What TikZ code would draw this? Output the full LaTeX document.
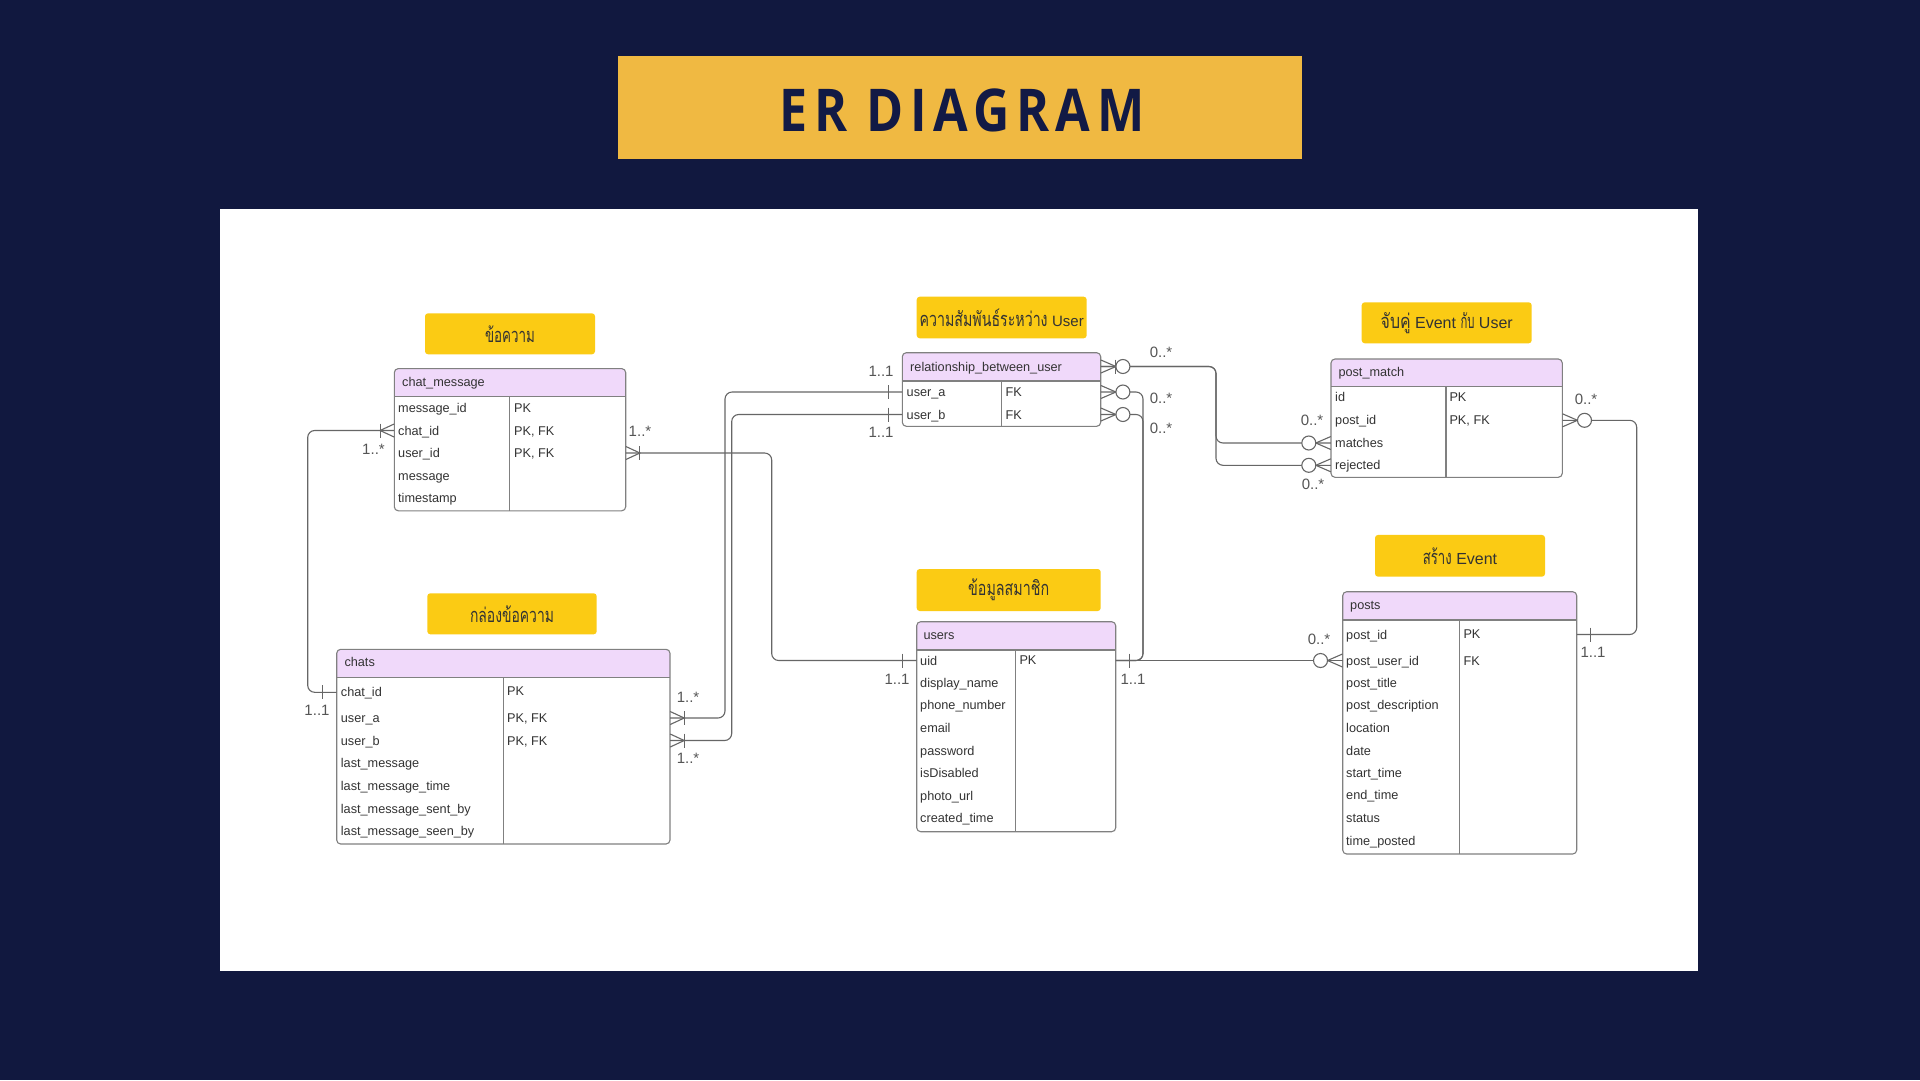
\documentclass[tikz,border=0pt]{standalone}
\usepackage{fontspec}
\usepackage{graphicx}
\setmainfont{Liberation Sans}
\newfontfamily\thaiface[Script=Thai]{Loma}
\newcommand\thaiw[2]{\resizebox{#1pt}{\height}{\thaiface\fontsize{20}{22}\selectfont #2}}
\newfontfamily\titlefont{Open Sans}[FakeStretch=0.85,LetterSpace=11]
\usetikzlibrary{fit}
\definecolor{bgnavy}{HTML}{11183F}
\definecolor{titlenavy}{HTML}{121A45}
\definecolor{titlegold}{HTML}{F0B942}
\definecolor{labyel}{HTML}{FBCB14}
\definecolor{lav}{HTML}{F0D9FA}
\definecolor{tborder}{HTML}{808080}
\definecolor{lineGray}{HTML}{666666}
\definecolor{txtdark}{HTML}{333333}
\definecolor{cardgray}{HTML}{555555}
\definecolor{labtext}{HTML}{333333}
\newcommand\ertable[7]{%
  \begin{scope}
    \clip[rounded corners=4] (#2,#3) rectangle (#4,#5);
    \fill[white] (#2,#3) rectangle (#4,#5);
    \fill[lav] (#2,#3) rectangle (#4,#6);
  \end{scope}
  \draw[tborder,line width=1.1pt] (#2,#6) -- (#4,#6);
  \draw[tborder,line width=1.1pt] (#7,#6) -- (#7,#5);
  \draw[tborder,line width=1.1pt,rounded corners=4] (#2,#3) rectangle (#4,#5);
  \node[inner sep=0pt,fit={(#2,#3)(#4,#5)}] (#1) {};
}
\begin{document}
\begin{tikzpicture}[x=1pt,y=-1pt,
  attr/.style={anchor=west,inner sep=0pt,text height=9pt,text depth=0pt,font=\fontsize{12.7}{14}\selectfont,text=txtdark},
  card/.style={inner sep=0pt,font=\fontsize{15}{17}\selectfont,text=cardgray},
  labelbox/.style={fill=labyel,rounded corners=3,inner sep=0pt,text=labtext,font=\fontsize{16}{18}\selectfont},
  connline/.style={draw=lineGray,line width=1.1pt,rounded corners=7},
  markline/.style={draw=lineGray,line width=1.1pt},
  pics/manyone/.style={code={\draw[markline] (0,-6.5) -- (14,0) -- (0,6.5); \draw[markline] (14,-7) -- (14,7);}},
  pics/onlyone/.style={code={\draw[markline] (14,-7) -- (14,7);}},
  pics/manyzero/.style={code={\draw[markline] (0,-6.5) -- (15,0) -- (0,6.5); \draw[markline,fill=white] (22,0) circle (7pt);}},
  pics/manyonezero/.style={code={\draw[markline] (0,-6.5) -- (15,0) -- (0,6.5); \draw[markline] (15,-7) -- (15,7); \draw[markline,fill=white] (22,0) circle (7pt);}}
]
\useasboundingbox (0,0) rectangle (1920,1080);
\fill[bgnavy] (0,0) rectangle (1920,1080);
\fill[white] (220.4,209.4) rectangle (1698.4,971);

% title
\node[fill=titlegold,minimum width=683.3,minimum height=103,inner sep=0pt] (titlebox) at (960,107.75) {};
\node[text=titlenavy,font=\titlefont\bfseries\fontsize{59}{61}\selectfont,inner sep=0pt] (title) at (962,110) {ER DIAGRAM};

% labels
\node[labelbox,minimum width=170,minimum height=41] (lab1) at (510,333.8) {\thaiw{50}{ข้อความ}};
\node[labelbox,minimum width=169.4,minimum height=41] (lab2) at (512,613.8) {\thaiw{84}{กล่องข้อความ}};
\node[labelbox,minimum width=170,minimum height=41.6] (lab3) at (1001.7,317.5) {\thaiw{128}{ความสัมพันธ์ระหว่าง} {\fontsize{15}{17}\selectfont User}};
\node[labelbox,minimum width=170,minimum height=41] (lab4) at (1446.7,322.8) {\thaiw{30}{จับคู่} Event \thaiw{14}{กับ} User};
\node[labelbox,minimum width=184,minimum height=42] (lab5) at (1008.7,590) {\thaiw{81}{ข้อมูลสมาชิก}};
\node[labelbox,minimum width=170,minimum height=41.7] (lab6) at (1460,555.8) {\thaiw{29}{สร้าง} Event};

% tables
\ertable{cm}{394.3}{368.6}{625.7}{510.8}{396.5}{509.8}
\node[attr] (cm-h) at (402,381.7) {chat\_message};
\node[attr] (cm-a1) at (398,407.7) {message\_id};
\node[attr] (cm-a2) at (398,430.5) {chat\_id};
\node[attr] (cm-a3) at (398,453) {user\_id};
\node[attr] (cm-a4) at (398,475.5) {message};
\node[attr] (cm-a5) at (398,498.3) {timestamp};
\node[attr] (cm-k1) at (514,407.7) {PK};
\node[attr] (cm-k2) at (514,430.5) {PK, FK};
\node[attr] (cm-k3) at (514,453) {PK, FK};

\ertable{ch}{336.7}{649.3}{670}{844}{677.7}{503.3}
\node[attr] (ch-h) at (344.3,662) {chats};
\node[attr] (ch-a1) at (340.7,692.3) {chat\_id};
\node[attr] (ch-a2) at (340.7,718) {user\_a};
\node[attr] (ch-a3) at (340.7,740.5) {user\_b};
\node[attr] (ch-a4) at (340.7,763) {last\_message};
\node[attr] (ch-a5) at (340.7,785.7) {last\_message\_time};
\node[attr] (ch-a6) at (340.7,808.7) {last\_message\_sent\_by};
\node[attr] (ch-a7) at (340.7,830.7) {last\_message\_seen\_by};
\node[attr] (ch-k1) at (507,691) {PK};
\node[attr] (ch-k2) at (507,718) {PK, FK};
\node[attr] (ch-k3) at (507,740.5) {PK, FK};

\ertable{rel}{902.3}{352.7}{1100.7}{426.3}{381}{1001.7}
\node[attr] (rel-h) at (910,366.5) {relationship\_between\_user};
\node[attr] (rel-a1) at (906.5,392) {user\_a};
\node[attr] (rel-a2) at (906.5,414.5) {user\_b};
\node[attr] (rel-k1) at (1005.5,392) {FK};
\node[attr] (rel-k2) at (1005.5,414.5) {FK};

\ertable{us}{916.7}{621.7}{1115.7}{831.7}{650}{1015.7}
\node[attr] (us-h) at (923.3,634.5) {users};
\node[attr] (us-a1) at (920,660.5) {uid};
\node[attr] (us-a2) at (920,682.7) {display\_name};
\node[attr] (us-a3) at (920,705.3) {phone\_number};
\node[attr] (us-a4) at (920,727.7) {email};
\node[attr] (us-a5) at (920,750.7) {password};
\node[attr] (us-a6) at (920,773.3) {isDisabled};
\node[attr] (us-a7) at (920,795.7) {photo\_url};
\node[attr] (us-a8) at (920,818.3) {created\_time};
\node[attr] (us-k1) at (1019.3,660) {PK};

\ertable{pm}{1331}{359}{1562.3}{477.3}{386.7}{1446}
\node[attr] (pm-h) at (1338.3,371.5) {post\_match};
\node[attr] (pm-a1) at (1335,396.7) {id};
\node[attr] (pm-a2) at (1335,420.3) {post\_id};
\node[attr] (pm-a3) at (1335,443) {matches};
\node[attr] (pm-a4) at (1335,465.3) {rejected};
\node[attr] (pm-k1) at (1449.3,396.7) {PK};
\node[attr] (pm-k2) at (1449.3,420.3) {PK, FK};

\ertable{po}{1342.7}{591.7}{1576.7}{854}{620}{1459.3}
\node[attr] (po-h) at (1350,605) {posts};
\node[attr] (po-a1) at (1346,634.5) {post\_id};
\node[attr] (po-a2) at (1346,660.5) {post\_user\_id};
\node[attr] (po-a3) at (1346,682.7) {post\_title};
\node[attr] (po-a4) at (1346,705.3) {post\_description};
\node[attr] (po-a5) at (1346,727.7) {location};
\node[attr] (po-a6) at (1346,750.7) {date};
\node[attr] (po-a7) at (1346,773.3) {start\_time};
\node[attr] (po-a8) at (1346,795.3) {end\_time};
\node[attr] (po-a9) at (1346,817.7) {status};
\node[attr] (po-a10) at (1346,840.7) {time\_posted};
\node[attr] (po-k1) at (1463.3,633.5) {PK};
\node[attr] (po-k2) at (1463.3,660.5) {FK};

% routing columns
\coordinate (v1) at (307.7,0);
\coordinate (v2) at (771.7,0);
\coordinate (v3) at (725,0);
\coordinate (v4) at (731.7,0);
\coordinate (v5) at (1216,0);
\coordinate (v6) at (1143,0);
\coordinate (v7) at (1636.7,0);

% connectors
\draw[connline] (cm.west |- cm-a2) -- (v1 |- cm-a2) -- (v1 |- ch-a1) -- (ch.west |- ch-a1);
\draw[connline] (cm.east |- cm-a3) -- (v2 |- cm-a3) -- (v2 |- us-a1) -- (us.west |- us-a1);
\draw[connline] (ch.east |- ch-a2) -- (v3 |- ch-a2) -- (v3 |- rel-a1) -- (rel.west |- rel-a1);
\draw[connline] (ch.east |- ch-a3) -- (v4 |- ch-a3) -- (v4 |- rel-a2) -- (rel.west |- rel-a2);
\draw[connline] (rel.east |- rel-h) -- (v5 |- rel-h) -- (v5 |- pm-a3) -- (pm.west |- pm-a3);
\draw[connline] (rel.east |- rel-h) -- (v5 |- rel-h) -- (v5 |- pm-a4) -- (pm.west |- pm-a4);
\draw[connline] (rel.east |- rel-a1) -- (v6 |- rel-a1) -- (v6 |- us-a1) -- (us.east |- us-a1);
\draw[connline] (rel.east |- rel-a2) -- (v6 |- rel-a2) -- (v6 |- us-a1) -- (us.east |- us-a1);
\draw[connline] (us.east |- us-a1) -- (po.west |- us-a1);
\draw[connline] (pm.east |- pm-a2) -- (v7 |- pm-a2) -- (v7 |- po-a1) -- (po.east |- po-a1);

% cardinality marks
\pic[xscale=-1] at (cm.west |- cm-a2) {manyone};
\pic[xscale=-1] at (ch.west |- ch-a1) {onlyone};
\pic at (cm.east |- cm-a3) {manyone};
\pic[xscale=-1] at (us.west |- us-a1) {onlyone};
\pic at (ch.east |- ch-a2) {manyone};
\pic at (ch.east |- ch-a3) {manyone};
\pic[xscale=-1] at (rel.west |- rel-a1) {onlyone};
\pic[xscale=-1] at (rel.west |- rel-a2) {onlyone};
\pic at (rel.east |- rel-h) {manyonezero};
\pic[xscale=-1] at (pm.west |- pm-a3) {manyzero};
\pic[xscale=-1] at (pm.west |- pm-a4) {manyzero};
\pic at (rel.east |- rel-a1) {manyzero};
\pic at (rel.east |- rel-a2) {manyzero};
\pic at (us.east |- us-a1) {onlyone};
\pic[xscale=-1] at (po.west |- us-a1) {manyzero};
\pic at (pm.east |- pm-a2) {manyzero};
\pic at (po.east |- po-a1) {onlyone};

% cardinality labels
\node[card] (c1) at (373.5,449) {1..*};
\node[card] (c2) at (317,710) {1..1};
\node[card] (c3) at (640,431.5) {1..*};
\node[card] (c4) at (897,679) {1..1};
\node[card] (c5) at (688,697) {1..*};
\node[card] (c6) at (688,758) {1..*};
\node[card] (c7) at (881,371) {1..1};
\node[card] (c8) at (881,432.5) {1..1};
\node[card] (c9) at (1161,352) {0..*};
\node[card] (c10) at (1161,398.5) {0..*};
\node[card] (c11) at (1161,428) {0..*};
\node[card] (c12) at (1312,420.5) {0..*};
\node[card] (c13) at (1313,484) {0..*};
\node[card] (c14) at (1133,679) {1..1};
\node[card] (c15) at (1319,639) {0..*};
\node[card] (c16) at (1586,399) {0..*};
\node[card] (c17) at (1593,652.5) {1..1};
\end{tikzpicture}
\end{document}
